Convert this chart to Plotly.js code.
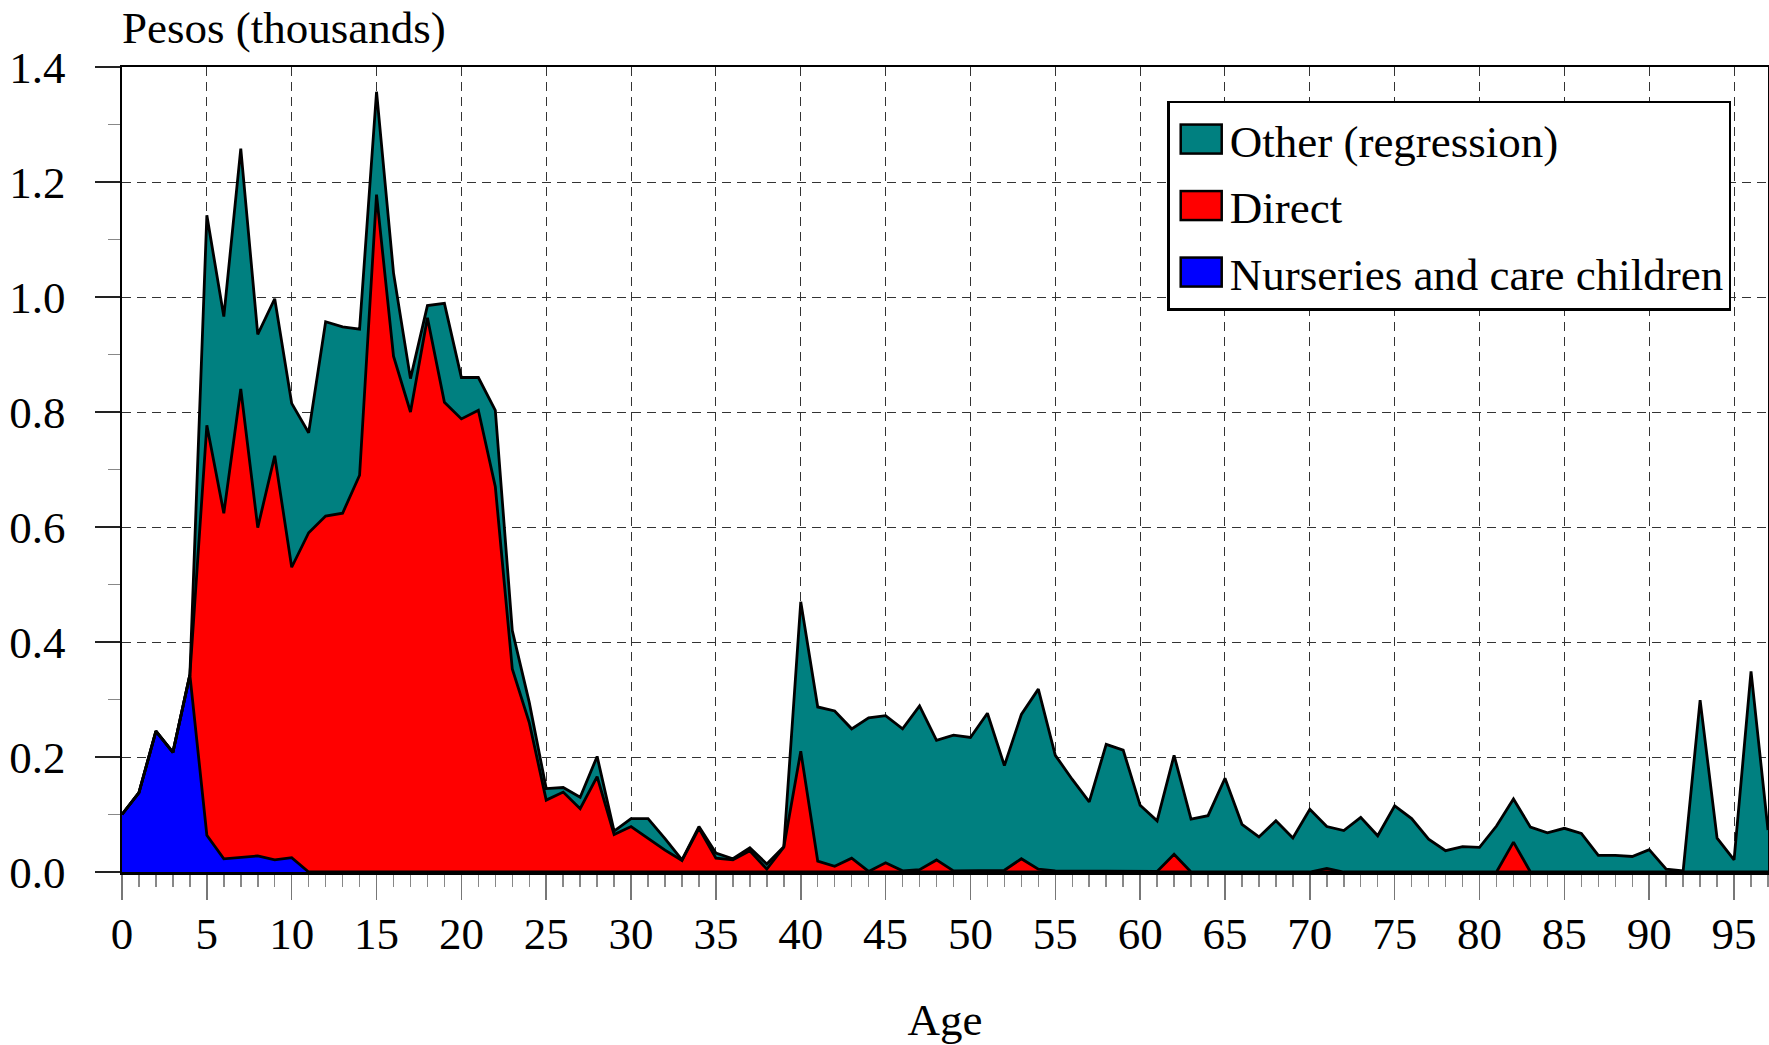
<!DOCTYPE html>
<html>
<head>
<meta charset="utf-8">
<script src="https://cdn.plot.ly/plotly-3.0.1.min.js"></script>
<style>
html, body { margin: 0; padding: 0; background: #fff; }
#chart { width: 1769px; height: 1045px; }
</style>
</head>
<body>
<div id="chart"></div>
<script>
const ages = [
  0,1,2,3,4,5,6,7,8,9,10,11,12,13,14,15,16,17,18,19,
  20,21,22,23,24,25,26,27,28,29,30,31,32,33,34,35,36,37,38,39,
  40,41,42,43,44,45,46,47,48,49,50,51,52,53,54,55,56,57,58,59,
  60,61,62,63,64,65,66,67,68,69,70,71,72,73,74,75,76,77,78,79,
  80,81,82,83,84,85,86,87,88,89,90,91,92,93,94,95,96,97
];

const nurseries = [
  0.100,0.138,0.245,0.208,0.343,0.064,0.023,0.026,0.028,0.021,
  0.025,0,0,0,0,0,0,0,0,0,
  0,0,0,0,0,0,0,0,0,0,
  0,0,0,0,0,0,0,0,0,0,
  0,0,0,0,0,0,0,0,0,0,
  0,0,0,0,0,0,0,0,0,0,
  0,0,0,0,0,0,0,0,0,0,
  0,0,0,0,0,0,0,0,0,0,
  0,0,0,0,0,0,0,0,0,0,
  0,0,0,0,0,0,0,0
];

const direct = [
  0,0,0,0,0,0.713,0.601,0.814,0.571,0.703,
  0.505,0.590,0.619,0.624,0.690,1.178,0.897,0.800,0.964,0.817,
  0.788,0.803,0.670,0.353,0.260,0.125,0.139,0.110,0.166,0.065,
  0.079,0.058,0.038,0.020,0.076,0.024,0.021,0.037,0.005,0.043,
  0.210,0.019,0.010,0.024,0.001,0.016,0.002,0.004,0.021,0.002,
  0.002,0.003,0.003,0.023,0.005,0.002,0.002,0.002,0.001,0.001,
  0.001,0.001,0.031,0,0,0,0,0,0,0,
  0,0.006,0,0,0,0,0,0,0,0,
  0,0,0.052,0,0,0,0,0,0,0,
  0,0,0,0,0,0,0,0
];

const other = [
  0,0,0,0,0,0.365,0.342,0.418,0.336,0.273,
  0.285,0.174,0.338,0.324,0.254,0.179,0.145,0.058,0.021,0.172,
  0.072,0.057,0.133,0.067,0.035,0.020,0.008,0.020,0.035,0.006,
  0.014,0.035,0.020,0.001,0.003,0.009,0.002,0.005,0.009,0.001,
  0.260,0.268,0.270,0.225,0.267,0.256,0.247,0.285,0.208,0.236,
  0.232,0.273,0.182,0.251,0.313,0.201,0.159,0.120,0.221,0.211,
  0.115,0.088,0.172,0.092,0.098,0.163,0.083,0.061,0.089,0.059,
  0.109,0.073,0.072,0.095,0.063,0.115,0.093,0.057,0.037,0.044,
  0.043,0.080,0.075,0.078,0.068,0.076,0.067,0.029,0.029,0.027,
  0.039,0.005,0.002,0.299,0.059,0.021,0.349,0.073
];

const seriesNames = ['Nurseries and care children', 'Direct', 'Other (regression)'];
const seriesColors = ['#0000ff', '#ff0000', '#008080'];
const legendRanks = [3, 2, 1];
const seriesValues = [nurseries, direct, other];

const FONT = '"Liberation Serif", "Times New Roman", Times, serif';
const FS = 45;

const traces = seriesValues.map((vals, i) => ({
  type: 'scatter',
  mode: 'lines',
  x: ages,
  y: vals,
  name: seriesNames[i],
  legendgroup: 'g' + i,
  legendrank: legendRanks[i],
  stackgroup: 'one',
  fillcolor: seriesColors[i],
  line: { color: '#000000', width: 2.8, shape: 'linear' },
  hoverinfo: 'x+y+name'
}));

const layout = {
  width: 1769,
  height: 1045,
  margin: { l: 122, r: 1, t: 67, b: 173 },
  paper_bgcolor: '#ffffff',
  plot_bgcolor: '#ffffff',
  font: { family: FONT, size: FS, color: '#000000' },
  showlegend: true,
  legend: {
    x: 0.635, y: 0.958, xanchor: 'left', yanchor: 'top',
    traceorder: 'grouped',
    tracegroupgap: 5,
    itemwidth: 50,
    bgcolor: '#ffffff',
    bordercolor: '#000000',
    borderwidth: 2.5,
    font: { family: FONT, size: FS, color: '#000000' }
  },
  xaxis: {
    range: [0, 97],
    tickmode: 'linear', tick0: 0, dtick: 5,
    ticks: 'outside', ticklen: 25, tickwidth: 1.5, tickcolor: '#777777',
    ticklabelstandoff: -5,
    showline: true, linecolor: '#000000', linewidth: 2.5, mirror: true,
    showgrid: true, gridcolor: '#333333', gridwidth: 1, griddash: '9px,6px',
    zeroline: false,
    tickfont: { family: FONT, size: FS, color: '#000000' },
    minor: { dtick: 1, ticks: 'outside', ticklen: 12, tickwidth: 1.5, tickcolor: '#888888', showgrid: false },
    title: { text: 'Age', font: { family: FONT, size: FS, color: '#000000' }, standoff: 61 }
  },
  yaxis: {
    range: [0, 1.4],
    tickmode: 'linear', tick0: 0, dtick: 0.2,
    tickformat: '.1f',
    ticks: 'outside', ticklen: 25, tickwidth: 1.5, tickcolor: '#222222',
    ticklabelstandoff: 20,
    showline: true, linecolor: '#000000', linewidth: 2.5, mirror: true,
    showgrid: true, gridcolor: '#333333', gridwidth: 1, griddash: '9px,6px',
    zeroline: false,
    tickfont: { family: FONT, size: FS, color: '#000000' },
    minor: { dtick: 0.1, ticks: 'outside', ticklen: 12, tickwidth: 1.5, tickcolor: '#888888', showgrid: false }
  },
  annotations: [{
    text: 'Pesos (thousands)',
    xref: 'paper', yref: 'paper',
    x: 0, y: 1, xanchor: 'left', yanchor: 'bottom',
    xshift: -2, yshift: 12,
    showarrow: false,
    font: { family: FONT, size: FS, color: '#000000' }
  }]
};

Plotly.newPlot('chart', traces, layout, { displayModeBar: false, staticPlot: true }).then(gd => {
  // Square colour swatches in the legend, as in the reference
  const SVGNS = 'http://www.w3.org/2000/svg';
  gd.querySelectorAll('.legend .traces').forEach(item => {
    const label = item.querySelector('.legendtext');
    const idx = seriesNames.indexOf(label ? label.textContent : '');
    if (idx < 0) return;
    item.querySelectorAll('path').forEach(p => { p.style.display = 'none'; });
    const r = document.createElementNS(SVGNS, 'rect');
    r.setAttribute('x', 11);
    r.setAttribute('y', -14.5);
    r.setAttribute('width', 41);
    r.setAttribute('height', 29);
    r.setAttribute('fill', seriesColors[idx]);
    r.setAttribute('stroke', '#000000');
    r.setAttribute('stroke-width', 2.5);
    item.appendChild(r);
  });
});
</script>
</body>
</html>
